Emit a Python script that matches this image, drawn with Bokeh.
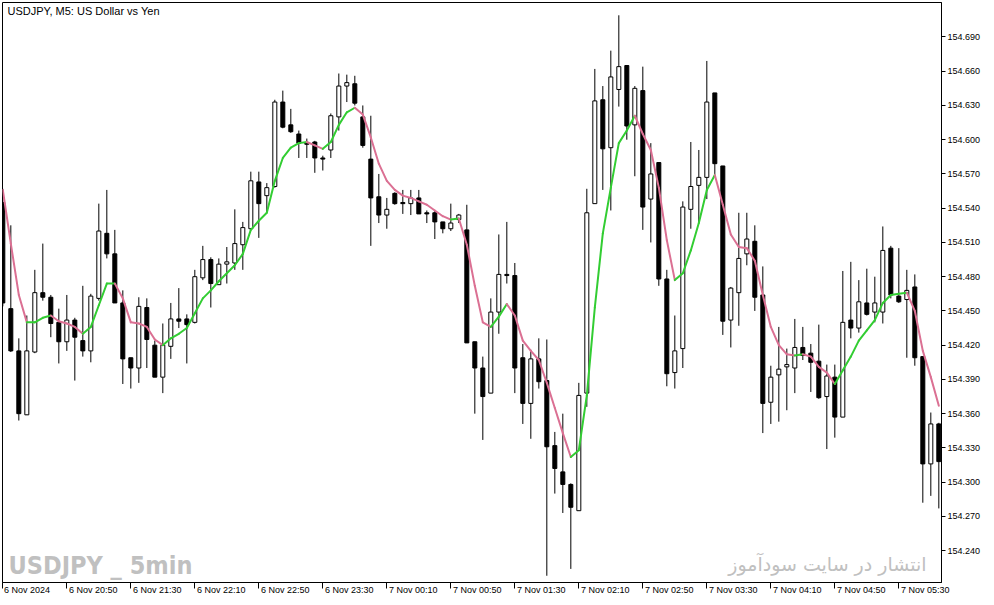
from bokeh.plotting import figure
from bokeh.models import FixedTicker, Label, Range1d, PrintfTickFormatter, ColumnDataSource, LinearAxis
from bokeh.core.properties import value
from bokeh.embed import file_html
from bokeh.resources import INLINE

# ---------------- data (USDJPY M5, 6 Nov 2024 20:10 -> 7 Nov 05:55) ----------------
opens = [154.545, 154.452, 154.415, 154.359, 154.414, 154.466, 154.462, 154.440, 154.423, 154.442,
         154.424, 154.415, 154.461, 154.518, 154.500, 154.457, 154.409, 154.400, 154.453, 154.420,
         154.392, 154.419, 154.443, 154.443, 154.440, 154.479, 154.495, 154.473, 154.491, 154.492,
         154.508, 154.522, 154.563, 154.551, 154.559, 154.633, 154.613, 154.605, 154.597, 154.598,
         154.584, 154.591, 154.620, 154.647, 154.649, 154.620, 154.583, 154.550, 154.534, 154.553,
         154.545, 154.544, 154.549, 154.536, 154.536, 154.528, 154.522, 154.530, 154.521, 154.423,
         154.400, 154.378, 154.449, 154.482, 154.481, 154.409, 154.369, 154.408, 154.389, 154.332,
         154.309, 154.298, 154.275, 154.378, 154.544, 154.635, 154.593, 154.644, 154.665, 154.613,
         154.643, 154.548, 154.580, 154.478, 154.396, 154.417, 154.539, 154.560, 154.567, 154.641,
         154.577, 154.442, 154.466, 154.500, 154.511, 154.464, 154.370, 154.394, 154.401, 154.400,
         154.418, 154.413, 154.406, 154.375, 154.392, 154.357, 154.442, 154.435, 154.457, 154.449,
         154.449, 154.505, 154.463, 154.460, 154.471, 154.410, 154.316, 154.351]
highs = [154.557, 154.525, 154.426, 154.446, 154.486, 154.509, 154.464, 154.452, 154.464, 154.444,
         154.472, 154.465, 154.544, 154.556, 154.521, 154.468, 154.409, 154.462, 154.461, 154.424,
         154.439, 154.457, 154.470, 154.447, 154.486, 154.507, 154.497, 154.496, 154.506, 154.539,
         154.528, 154.572, 154.572, 154.562, 154.635, 154.643, 154.627, 154.608, 154.601, 154.599,
         154.586, 154.623, 154.658, 154.657, 154.656, 154.630, 154.621, 154.570, 154.549, 154.554,
         154.556, 154.556, 154.556, 154.538, 154.538, 154.528, 154.544, 154.535, 154.543, 154.423,
         154.410, 154.461, 154.517, 154.528, 154.492, 154.421, 154.416, 154.426, 154.425, 154.344,
         154.360, 154.299, 154.387, 154.557, 154.662, 154.647, 154.678, 154.709, 154.665, 154.647,
         154.664, 154.597, 154.580, 154.486, 154.446, 154.546, 154.598, 154.591, 154.669, 154.641,
         154.577, 154.471, 154.536, 154.536, 154.525, 154.489, 154.402, 154.436, 154.417, 154.443,
         154.436, 154.421, 154.438, 154.403, 154.403, 154.485, 154.493, 154.477, 154.487, 154.480,
         154.524, 154.507, 154.505, 154.486, 154.482, 154.410, 154.361, 154.352]
lows = [154.454, 154.414, 154.354, 154.359, 154.413, 154.459, 154.427, 154.404, 154.415, 154.389,
        154.410, 154.405, 154.459, 154.496, 154.457, 154.386, 154.382, 154.387, 154.400, 154.392,
        154.378, 154.408, 154.435, 154.404, 154.439, 154.477, 154.453, 154.473, 154.474, 154.486,
        154.486, 154.521, 154.514, 154.536, 154.558, 154.610, 154.606, 154.584, 154.584, 154.571,
        154.573, 154.584, 154.608, 154.633, 154.630, 154.593, 154.507, 154.527, 154.522, 154.543,
        154.535, 154.534, 154.535, 154.527, 154.513, 154.518, 154.520, 154.527, 154.422, 154.360,
        154.337, 154.378, 154.430, 154.474, 154.378, 154.351, 154.338, 154.382, 154.218, 154.290,
        154.273, 154.224, 154.275, 154.366, 154.544, 154.556, 154.538, 154.629, 154.600, 154.568,
        154.521, 154.510, 154.472, 154.384, 154.382, 154.400, 154.522, 154.527, 154.548, 154.570,
        154.429, 154.418, 154.437, 154.490, 154.450, 154.343, 154.351, 154.353, 154.363, 154.378,
        154.407, 154.379, 154.373, 154.329, 154.339, 154.357, 154.426, 154.431, 154.446, 154.440,
        154.439, 154.461, 154.457, 154.409, 154.402, 154.282, 154.288, 154.277]
closes = [154.457, 154.415, 154.360, 154.415, 154.466, 154.462, 154.439, 154.423, 154.442, 154.427,
          154.415, 154.463, 154.520, 154.500, 154.457, 154.408, 154.400, 154.454, 154.425, 154.392,
          154.420, 154.443, 154.441, 154.438, 154.480, 154.495, 154.474, 154.491, 154.493, 154.509,
          154.523, 154.564, 154.544, 154.558, 154.633, 154.611, 154.607, 154.597, 154.596, 154.584,
          154.583, 154.621, 154.647, 154.650, 154.632, 154.595, 154.549, 154.534, 154.539, 154.544,
          154.544, 154.549, 154.535, 154.535, 154.528, 154.522, 154.527, 154.534, 154.422, 154.400,
          154.375, 154.449, 154.482, 154.481, 154.400, 154.369, 154.408, 154.388, 154.331, 154.312,
          154.298, 154.278, 154.376, 154.536, 154.634, 154.592, 154.655, 154.664, 154.612, 154.645,
          154.541, 154.570, 154.478, 154.395, 154.415, 154.541, 154.559, 154.567, 154.633, 154.579,
          154.441, 154.470, 154.496, 154.513, 154.462, 154.369, 154.392, 154.399, 154.403, 154.418,
          154.411, 154.405, 154.374, 154.393, 154.357, 154.440, 154.435, 154.458, 154.447, 154.457,
          154.503, 154.464, 154.458, 154.468, 154.409, 154.316, 154.351, 154.318]
ma_values = [154.556, 154.509, 154.464, 154.440, 154.440, 154.444, 154.446, 154.441, 154.439, 154.436,
             154.430, 154.436, 154.455, 154.474, 154.474, 154.461, 154.440, 154.439, 154.436, 154.425,
             154.420, 154.426, 154.430, 154.435, 154.448, 154.461, 154.468, 154.476, 154.483, 154.490,
             154.500, 154.521, 154.529, 154.536, 154.564, 154.584, 154.593, 154.597, 154.598, 154.595,
             154.592, 154.598, 154.613, 154.624, 154.628, 154.622, 154.602, 154.579, 154.564, 154.556,
             154.551, 154.549, 154.546, 154.543, 154.538, 154.533, 154.530, 154.531, 154.508, 154.472,
             154.440, 154.436, 154.445, 154.456, 154.446, 154.424, 154.415, 154.407, 154.387, 154.365,
             154.343, 154.322, 154.328, 154.376, 154.453, 154.518, 154.558, 154.597, 154.608, 154.621,
             154.605, 154.591, 154.558, 154.512, 154.477, 154.483, 154.503, 154.527, 154.556, 154.569,
             154.543, 154.517, 154.506, 154.505, 154.494, 154.464, 154.436, 154.420, 154.412, 154.411,
             154.412, 154.410, 154.401, 154.396, 154.386, 154.398, 154.410, 154.424, 154.433, 154.442,
             154.457, 154.464, 154.465, 154.466, 154.450, 154.415, 154.392, 154.367]
price_ticks = [154.240, 154.270, 154.300, 154.330, 154.360, 154.390, 154.420, 154.450,
               154.480, 154.510, 154.540, 154.570, 154.600, 154.630, 154.660, 154.690]
time_tick_bars = [0, 8, 16, 24, 32, 40, 48, 56, 64, 72, 80, 88, 96, 104, 112]
time_tick_labels = ["6 Nov 2024", "6 Nov 20:50", "6 Nov 21:30", "6 Nov 22:10", "6 Nov 22:50",
                    "6 Nov 23:30", "7 Nov 00:10", "7 Nov 00:50", "7 Nov 01:30", "7 Nov 02:10",
                    "7 Nov 02:50", "7 Nov 03:30", "7 Nov 04:10", "7 Nov 04:50", "7 Nov 05:30"]
title_text = "USDJPY, M5:  US Dollar vs Yen"
watermark_text = "USDJPY _ 5min"
persian_text = "انتشار در سایت سودآموز"

# ---------------- figure ----------------
x0, x1 = -0.04, 117.335
y0, y1 = 154.2121, 154.7202
FH = 580
BAR_PX = 8.0
def y_at(px):  # screen px from frame top -> price (for text placement)
    return y1 - (px / FH) * (y1 - y0)

p = figure(frame_width=939, frame_height=FH, x_range=Range1d(x0, x1), y_range=Range1d(y0, y1),
           output_backend="svg", toolbar_location=None, y_axis_location="right",
           min_border_left=2, min_border_top=2, min_border_right=51, min_border_bottom=21,
           background_fill_color="white", border_fill_color="white")
p.styles = {"position": "absolute", "left": "0px", "top": "0px"}
p.grid.visible = False
p.outline_line_color = "black"
p.outline_line_width = 1

ya = p.yaxis[0]
ya.ticker = FixedTicker(ticks=price_ticks)
ya.formatter = PrintfTickFormatter(format="%.3f")
ya.major_tick_out = 4
ya.major_tick_in = 0
ya.minor_tick_out = 0
ya.minor_tick_in = 0
ya.axis_line_color = "black"
ya.major_tick_line_color = "black"
ya.major_label_text_font = "Liberation Sans"
ya.major_label_text_font_size = "9px"
ya.major_label_text_color = "black"
ya.major_label_standoff = 2

# bottom axis 1: line + tick marks (no labels)
xa = p.xaxis[0]
xa.ticker = FixedTicker(ticks=time_tick_bars)
xa.major_tick_out = 6
xa.major_tick_in = 0
xa.minor_tick_out = 0
xa.minor_tick_in = 0
xa.axis_line_color = "black"
xa.major_tick_line_color = "black"
xa.major_label_overrides = {t: "" for t in time_tick_bars}
xa.major_label_standoff = 0

# bottom axis 2: labels, left-aligned to the tick marks (MetaTrader style)
label_pos = [t + (2 + 4.45 * len(s) / 2) / BAR_PX for t, s in zip(time_tick_bars, time_tick_labels)]
xa2 = LinearAxis(ticker=FixedTicker(ticks=label_pos),
                 major_label_overrides={pos: s for pos, s in zip(label_pos, time_tick_labels)},
                 axis_line_color=None, major_tick_line_color=None, minor_tick_line_color=None,
                 major_tick_out=0, major_tick_in=0, minor_tick_out=0, minor_tick_in=0,
                 major_label_standoff=-4, major_label_text_font="Liberation Sans",
                 major_label_text_font_size="9px", major_label_text_color="black")
p.add_layout(xa2, "below")

# ---------------- candles ----------------
n = len(opens)
idx = list(range(n))
up = [c > o for o, c in zip(opens, closes)]
src = ColumnDataSource(dict(
    x=idx, high=highs, low=lows,
    top=[max(o, c) for o, c in zip(opens, closes)],
    bottom=[min(o, c) for o, c in zip(opens, closes)],
    fill=["white" if u else "black" for u in up],
))
p.segment(x0="x", y0="low", x1="x", y1="high", source=src, line_color="black", line_width=1)
p.vbar(x="x", width=0.5, top="top", bottom="bottom", source=src,
       fill_color="fill", line_color="black", line_width=1)

# ---------------- coloured moving average ----------------
seg = dict(xs=[], ys=[], xe=[], ye=[], c=[])
for i in range(1, n):
    seg["xs"].append(idx[i - 1]); seg["ys"].append(ma_values[i - 1])
    seg["xe"].append(idx[i]); seg["ye"].append(ma_values[i])
    seg["c"].append("#32cd32" if ma_values[i] >= ma_values[i - 1] else "#db7093")
p.segment(x0="xs", y0="ys", x1="xe", y1="ye", color="c", line_width=2,
          source=ColumnDataSource(seg), line_cap="round")

# ---------------- texts ----------------
p.add_layout(Label(x=x0, y=y_at(2), x_offset=5, text=title_text, text_baseline="top",
                   text_font="Liberation Sans", text_font_size="11px", text_color="black"))
p.add_layout(Label(x=x0, y=y_at(563), x_offset=6, text=watermark_text, text_baseline="middle",
                   text_font="DejaVu Sans Condensed, Liberation Sans Narrow, Liberation Sans",
                   text_font_style="bold", text_font_size="25px", text_color="#c0c0c0"))
p.add_layout(Label(x=x1, y=y_at(561), x_offset=-15, text=persian_text, text_align="right",
                   text_baseline="middle", text_font="DejaVu Sans", text_font_size="19px",
                   text_color="#c0c0c0"))

open("out.html", "w").write(file_html(p, INLINE))
